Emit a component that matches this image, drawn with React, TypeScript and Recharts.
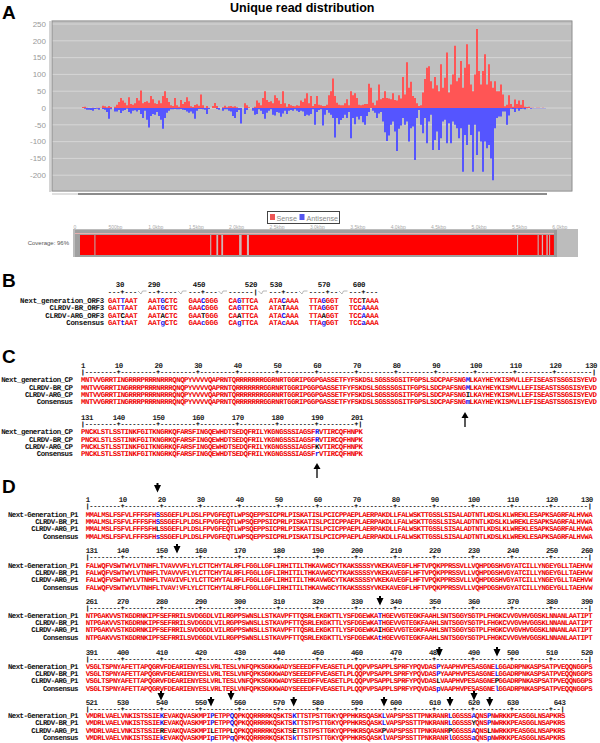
import { Bar, BarChart, CartesianGrid, XAxis, YAxis } from "recharts";

// Panel A: unique read counts, one value for every 2px column of the plot
const senseReads = [
  3, 4, 1, 0, 0, 1, 0, 1, 1, 1, 7, 5, 2, 6, 3, 0, 4, 10, 18, 30,
  22, 16, 8, 32, 12, 10, 14, 30, 22, 52, 14, 18, 20, 16, 36, 26, 14, 12, 22, 14,
  36, 50, 30, 18, 8, 6, 30, 8, 4, 24, 12, 18, 32, 20, 5, 3, 9, 11, 7, 40,
  8, 1, 6, 1, 0, 6, 15, 6, 0, 0, 2, 7, 2, 5, 6, 4, 5, 2, 0, 0,
  0, 14, 8, 2, 0, 1, 4, 22, 16, 8, 30, 50, 24, 18, 20, 14, 38, 30, 22, 12,
  50, 14, 4, 12, 8, 6, 5, 8, 7, 22, 18, 28, 44, 14, 36, 6, 12, 36, 10, 8,
  6, 6, 10, 38, 50, 88, 36, 16, 10, 8, 8, 14, 26, 8, 50, 38, 44, 30, 10, 8,
  10, 12, 12, 72, 60, 16, 8, 22, 70, 26, 30, 50, 30, 28, 26, 44, 24, 22, 38, 28,
  92, 40, 136, 60, 78, 36, 30, 14, 6, 8, 46, 86, 120, 124, 80, 58, 92, 68, 50, 130,
  60, 90, 165, 46, 70, 100, 185, 80, 90, 140, 60, 120, 190, 130, 70, 50, 100, 235, 110, 70,
  110, 160, 70, 130, 80, 60, 80, 50, 50, 70, 40, 5, 10, 38, 12, 4, 25, 12, 22, 10,
  24, 4, 3, 4, 1, 1, 0, 1, 1, 0, 1, 0,
];
const antisenseReads = [
  0, -2, -5, -5, -6, -8, -3, -2, -5, 0, -3, -5, -12, -32, -4, 0, -10, -10, -6, -15,
  -8, -6, -2, -12, -16, -8, -7, -10, -6, -18, -30, -8, -35, -58, -24, -18, -20, -12, -24, -35,
  -62, -30, -14, -8, -4, -4, -3, -4, -4, -3, -5, -6, -10, -14, -10, -16, -32, -8, -3, -3,
  -4, -5, -18, -3, 0, 0, 0, -3, -5, 0, -8, -4, -4, -8, -10, -24, -30, -12, -6, -46,
  0, -18, -6, 0, 0, -8, -20, -18, -4, -8, -18, -32, -14, -8, -4, -20, -22, -12, -14, -26,
  -16, -8, -18, -8, -6, -8, -4, -8, -12, -8, -10, -24, -20, -22, -18, -4, -50, -12, -6, -4,
  -52, -20, -6, -14, -20, -30, -88, -30, -48, -36, -30, -20, -30, -12, -90, -30, -48, -26, -34, -24,
  -42, -50, -24, -12, 0, -8, -14, -30, -16, -12, -40, -72, -98, -82, -50, -40, -70, -128, -62, -52,
  -30, -50, -40, -100, -60, -55, -155, -30, -6, -50, -75, -30, -105, -40, -20, -125, -95, -70, -125, -90,
  -40, -35, -105, -45, -105, -40, -50, -60, -90, -60, -190, -80, -110, -50, -80, -190, -50, -140, -70, -100,
  -190, -100, -120, -110, -150, -215, -60, -30, -25, -25, -10, -10, -50, -22, -2, -3, -12, -2, -8, -3,
  -2, -4, -1, 0, -2, -1, -1, -1, -1, -1, -1, -1,
];
const readTicks = [-200, -150, -100, -50, 0, 50, 100, 150, 200, 250];

// Coverage track: alternating lengths in bp, uncovered lead first
const coverageSegments = [
  62, 181, 10, 1422, 12, 65, 20, 41, 20, 200, 30, 65, 25, 3321, 10, 243, 12, 39, 15, 43, 15, 19, 10, 47,
];
const coverageTicks = [0, 500, 1000, 1500, 2000, 2500, 3000, 3500, 4000, 4500, 5000, 5500, 6000];

// Panel B
const orfNames = ["Next_generation_ORF3", "CLRDV-BR_ORF3", "CLRDV-ARG_ORF3", "Consensus"];
const orfLabels = ["30", "290", "450", "520", "530", "570", "600"];
const orfTop = ["GATTAAT", "AATGCTC", "GAACGGG", "CAGTTCA", "ATACAAA", "TTAGGGT", "TCCTAAA"];
const orfVariants = [
  { col: 3, chars: "TTCt" },
  { col: 3, chars: "GGAg" },
  { col: 3, chars: "CCTc" },
  { col: 2, chars: "GGAg" },
  { col: 3, chars: "CTCc" },
  { col: 3, chars: "GGAg" },
  { col: 3, chars: "TAAa" },
];

// Panel C
const cpNames = ["Next_generation_CP", "CLRDV-BR_CP", "CLRDV-ARG_CP", "Consensus"];
const cpLine1 =
  "MNTVVGRRTINGRRRPRRRNRRRQNQPYVVVVQAPRNTQRRRRRRRGGRNRTGGRIPGGPGASSETFYFSKDSLSGSSSGSITFGPSLSDCPAFSNGMLKAYHEYKISMVLLEFISEASTSSGSISYEVD";
const cpLine2 = "PNCKLSTLSSTINKFGITKNGRKQFARSFINGQEWHDTSEDQFRILYKGNGSSSIAGSFRVTIRCQFHNPK";
const cpVariants1 = [{ col: 97, chars: "MMIm" }];
const cpVariants2 = [{ col: 59, chars: "RRKr" }];

// Panel D
const p1Names = ["Next-Generation_P1", "CLRDV-BR_P1", "CLRDV-ARG_P1", "Consensus"];
const p1Line1 =
  "MMALMSLFSFVLFFFSFHSSSGEFLPLDSLFPVGFEQTLWPSQEPPSICPRLPISKATISLPCICPPAEPLAERPAKDLLFALWSKTTGSSLSISALADTNTLKDSLKLWREKLESAPKSAGRFALHVWA";
const p1Line2 =
  "FALWQFVSWTWYLVTNHFLTVAVVVFLYLCTTCHYTALRFLFGGLLGFLIRHITILTHKAVWGCYTKAKSSSSYVKEKAVEGFLHFTVPQKPPRSSVLLVQHPDGSHVGYATCILLYNGEYGLLTAEHVW";
const p1Line3 =
  "NTPGAKVVSTKGDRNKIPFSEFRRILSVDGGDLVILRGPPSWNSLLSTKAVPFTTQSRLEKGKTTLYSFDGEWKATHGEVVGTEGKFAAHLSNTSGGYSGTPLFHGKCVVGVHVGGSKLNNANLAATIPT";
const p1Line4 =
  "VSGLTSPNYAFETTAPQGRVFDEARIENYESLVRLTESLVNFQPKSGKKWADYSEEEDFFVEASETLPLQQPVPSAPPLSPRFYPQVDASPYAAPHVPESASGNELGGADRPNKASPSATPVEQQNGGPS";
const p1Line5 =
  "VMDRLVAELVNKISTSSIEKEVAKQVASKMPIPETPPQQPKQQRRRRKQSKTSKTTSTPSTTGKYQPPHKRSQASKLVAPSPSSTTPNKRANRLGGSSSAQNSPNWRKKPEASGGLNSAPKRS";
const p1Variants1 = [{ col: 18, chars: "SSLs" }];
const p1Variants2 = [{ col: 23, chars: "VVI!", plain: true }];
const p1Variants3 = [{ col: 75, chars: "TTIt" }];
const p1Variants4 = [
  { col: 90, chars: "PPLp" },
  { col: 91, chars: "YYVV", plain: true },
  { col: 105, chars: "LLPl" },
];
const p1Variants5 = [
  { col: 19, chars: "KKRk" },
  { col: 32, chars: "PPLp" },
  { col: 37, chars: "QQLq" },
  { col: 53, chars: "KKEk" },
  { col: 76, chars: "LLPl" },
  { col: 93, chars: "LLPl" },
  { col: 99, chars: "AYAa" },
  { col: 103, chars: "PPLp" },
];

const readData = senseReads.map((sense, i) => ({
  pos: i,
  sense,
  antisense: antisenseReads[i],
}));
const coverageRow = [
  Object.fromEntries(coverageSegments.map((len, i) => [`s${i}`, len])),
];

const RED = "#f00000";
const BLUE = "#1010f0";
const MONO = "'Liberation Mono', monospace";
const SANS = "'Liberation Sans', Arial, sans-serif";
const GLYPH_SIZE = 7.4;
const RULER_SIZE = 6.2;

interface Variant {
  col: number;
  chars: string;
  plain?: boolean;
}

function buildRows(top: string, variants: Variant[]) {
  return [0, 1, 2, 3].map((row) => {
    const letters = top.split("");
    const colors = letters.map(() => RED);
    variants.forEach((v) => {
      letters[v.col] = v.chars[row];
      if (v.plain) return;
      if (row === 3) {
        colors[v.col] = BLUE;
        return;
      }
      const same = v.chars.slice(0, 3).split("").filter((c) => c === v.chars[row]).length;
      colors[v.col] = same >= 2 ? BLUE : "#000";
    });
    return { letters, colors };
  });
}

// bitmap-looking text: glyphs a bit bigger than the cell, squeezed to the column pitch
function gridText(adv: number, size = GLYPH_SIZE) {
  return {
    fontFamily: MONO,
    fontWeight: "bold",
    fontSize: size,
    letterSpacing: adv - 0.6 * size,
    textRendering: "geometricPrecision" as const,
  };
}

function SeqRow({ letters, colors, x, y, adv }: { letters: string[]; colors: string[]; x: number; y: number; adv: number }) {
  const runs: { text: string; color: string }[] = [];
  letters.forEach((c, i) => {
    const last = runs[runs.length - 1];
    if (last && last.color === colors[i]) last.text += c;
    else runs.push({ text: c, color: colors[i] });
  });
  return (
    <text x={x} y={y} {...gridText(adv)}>
      {runs.map((r, i) => (
        <tspan key={i} fill={r.color}>
          {r.text}
        </tspan>
      ))}
    </text>
  );
}

interface SeqBlockProps {
  names: string[];
  top: string;
  variants: Variant[];
  start: number;
  x: number;
  adv: number;
  nameX: number;
  numY: number;
  rulerY: number;
  rowY: number;
}

function SeqBlock({ names, top, variants, start, x, adv, nameX, numY, rulerY, rowY }: SeqBlockProps) {
  const rows = buildRows(top, variants);
  const n = top.length;
  const end = start + n - 1;
  const ruler = top
    .split("")
    .map((_, i) => (i === 0 || i === n - 1 ? "|" : (start + i) % 10 === 0 ? "+" : "-"))
    .join("");
  const labels: { text: string; col: number; anchor: "start" | "middle" | "end" }[] = [
    { text: String(start), col: 0, anchor: "start" },
  ];
  for (let i = 1; i < n - 1; i++) {
    if ((start + i) % 10 === 0 && (end - (start + i) > 3 || end % 10 === 0)) {
      labels.push({ text: String(start + i), col: i + 0.5, anchor: "middle" });
    }
  }
  labels.push({ text: String(end), col: n, anchor: "end" });
  return (
    <g>
      {labels.map((l) => (
        <text key={l.text} x={x + l.col * adv} y={numY + 2.5} textAnchor={l.anchor} fill="#222" {...gridText(adv)}>
          {l.text}
        </text>
      ))}
      <text x={x} y={rulerY + 2} fill="#000" stroke="#000" strokeWidth={0.15} {...gridText(adv, RULER_SIZE)}>
        {ruler}
      </text>
      {rows.map((r, i) => (
        <g key={i}>
          <text x={nameX} y={rowY + i * 7.4 + 2.5} textAnchor="end" fill="#111" {...gridText(adv)}>
            {names[i]}
          </text>
          <SeqRow letters={r.letters} colors={r.colors} x={x} y={rowY + i * 7.4 + 2.5} adv={adv} />
        </g>
      ))}
    </g>
  );
}

function UpArrow({ x, top, bottom }: { x: number; top: number; bottom: number }) {
  return (
    <g>
      <line x1={x} x2={x} y1={top + 4} y2={bottom} stroke="#000" strokeWidth={1.3} />
      <path d={`M${x - 3.5},${top + 6} L${x},${top} L${x + 3.5},${top + 6} Z`} fill="#000" />
    </g>
  );
}

function DownArrow({ x, top }: { x: number; top: number }) {
  return <path d={`M${x - 1},${top} H${x + 1} V${top + 2} H${x + 3.5} L${x},${top + 9.5} L${x - 3.5},${top + 2} H${x - 1} Z`} fill="#000" />;
}

function PanelLetter({ text, x, y }: { text: string; x: number; y: number }) {
  return (
    <text x={x} y={y} fontFamily={SANS} fontWeight="bold" fontSize={19} fill="#000">
      {text}
    </text>
  );
}

export default function App() {
  const orfX = [108, 148, 188.5, 228.5, 269, 309, 349];
  const orfLabelX = [120, 154, 199, 251, 276, 324, 359];
  const orfTickCol = [3, 2, 3, 6, 3, 4, 3];
  return (
    <div style={{ position: "absolute", left: 0, top: 0, width: 600, height: 743, background: "#fff", overflow: "hidden" }}>
      <div style={{ position: "absolute", left: 0, top: 0 }}>
        <BarChart
          width={600}
          height={200}
          data={readData}
          stackOffset="sign"
          barCategoryGap={0}
          margin={{ top: 21, right: 28, bottom: 9, left: 0 }}
        >
          <CartesianGrid vertical={false} stroke="#d6d6d6" fill="#bfbfbf" />
          <XAxis dataKey="pos" hide padding={{ left: 30, right: 26 }} />
          <YAxis
            width={52}
            domain={[-247, 259]}
            ticks={readTicks}
            interval={0}
            axisLine={false}
            tickLine={false}
            tickMargin={0}
            tick={{ fontSize: 8, fontFamily: SANS, fill: "#999" }}
          />
          <Bar dataKey="sense" stackId="reads" fill="#ff5555" isAnimationActive={false} />
          <Bar dataKey="antisense" stackId="reads" fill="#5555ff" isAnimationActive={false} />
        </BarChart>
      </div>

      <svg width={600} height={743} style={{ position: "absolute", left: 0, top: 0 }}>
        {/* frame round the read plot */}
        <rect x={52} y={21} width={520} height={170} fill="none" stroke="#8c8c8c" />
        <line x1={50} x2={50} y1={21} y2={192} stroke="#a8a8a8" />
        <line x1={52} x2={78} y1={194} y2={194} stroke="#e0e0e0" strokeWidth={2} />
        <line x1={78} x2={547} y1={194} y2={194} stroke="#8c8c8c" strokeWidth={2} />

        <PanelLetter text="A" x={2} y={19} />
        <text x={230} y={12} fontFamily={SANS} fontWeight="bold" fontSize={12.5} fill="#000">
          Unique read distribution
        </text>

        {/* legend */}
        <rect x={267.5} y={211.5} width={72} height={12} fill="#fff" stroke="#444" />
        <rect x={270} y={214} width={5} height={6} fill="#ee5555" />
        <text x={276.5} y={220.5} fontFamily={SANS} fontSize={7.2} fill="#888">
          Sense
        </text>
        <rect x={299.5} y={214} width={5} height={6} fill="#5555ee" />
        <text x={306.5} y={220.5} fontFamily={SANS} fontSize={7.2} fill="#888">
          Antisense
        </text>

        {/* coverage track background */}
        <text x={69} y={245} textAnchor="end" fontFamily={SANS} fontSize={6} fill="#555">
          Coverage: 96%
        </text>
        <rect x={73} y={229} width={505} height={28} fill="#bcbcbc" />
        <rect x={75} y={230} width={479} height={27} fill="#a0a0a0" />
        <rect x={554} y={230} width={3} height={27} fill="#9a9a9a" />
        <line x1={75} x2={554} y1={233.5} y2={233.5} stroke="#e6b0b0" />

        <PanelLetter text="B" x={2} y={287} />
        {orfTop.map((top, b) => {
          const rows = buildRows(top, [orfVariants[b]]);
          const adv = 4.2;
          const x = orfX[b];
          const ruler = top
            .split("")
            .map((_, i) => (i === orfTickCol[b] ? (b === 3 ? "|" : "+") : "-"))
            .join("");
          return (
            <g key={top}>
              <text x={orfLabelX[b]} y={286.5} textAnchor="middle" fill="#111" {...gridText(adv)}>
                {orfLabels[b]}
              </text>
              <text x={x} y={294} fill="#000" stroke="#000" strokeWidth={0.15} {...gridText(adv, RULER_SIZE)}>
                {ruler}
              </text>
              {b < 6 && (
                <path d={`M${x + 30},291 l3,3 l1.5,-3 h4`} fill="none" stroke="#999" strokeWidth={0.7} />
              )}
              {rows.map((r, i) => (
                <SeqRow key={i} letters={r.letters} colors={r.colors} x={x} y={302.5 + i * 7.6} adv={adv} />
              ))}
            </g>
          );
        })}
        {orfNames.map((name, i) => (
          <text key={name} x={104} y={302.5 + i * 7.6} textAnchor="end" fill="#111" {...gridText(4.2)}>
            {name}
          </text>
        ))}

        <PanelLetter text="C" x={2} y={363} />
        <SeqBlock names={cpNames} top={cpLine1} variants={cpVariants1} start={1} x={81} adv={3.97} nameX={72.5} numY={365} rulerY={372} rowY={379.7} />
        <SeqBlock names={cpNames} top={cpLine2} variants={cpVariants2} start={131} x={81} adv={3.97} nameX={72.5} numY={417} rulerY={424} rowY={431.7} />
        <UpArrow x={465} top={412} bottom={427} />
        <UpArrow x={317} top={463} bottom={478} />

        <PanelLetter text="D" x={2} y={493} />
        <SeqBlock names={p1Names} top={p1Line1} variants={p1Variants1} start={1} x={85.7} adv={3.9} nameX={78} numY={499} rulerY={506} rowY={514} />
        <SeqBlock names={p1Names} top={p1Line2} variants={p1Variants2} start={131} x={85.7} adv={3.9} nameX={78} numY={550} rulerY={557} rowY={565} />
        <SeqBlock names={p1Names} top={p1Line3} variants={p1Variants3} start={261} x={85.7} adv={3.9} nameX={78} numY={601} rulerY={608} rowY={615} />
        <SeqBlock names={p1Names} top={p1Line4} variants={p1Variants4} start={391} x={85.7} adv={3.9} nameX={78} numY={652} rulerY={659} rowY={666} />
        <SeqBlock names={p1Names} top={p1Line5} variants={p1Variants5} start={521} x={85.7} adv={3.9} nameX={78} numY={702} rulerY={709} rowY={715.5} />

        <DownArrow x={157.5} top={483} />
        <DownArrow x={177} top={544} />
        <DownArrow x={380} top={596} />
        <DownArrow x={439.3} top={647} />
        <DownArrow x={497} top={647} />
        <DownArrow x={161} top={691} />
        <DownArrow x={211} top={697} />
        <DownArrow x={231} top={691} />
        <DownArrow x={293.7} top={697} />
        <DownArrow x={384} top={697} />
        <DownArrow x={450} top={697} />
        <DownArrow x={474} top={691} />
        <DownArrow x={489.7} top={697} />
      </svg>

      <div style={{ position: "absolute", left: 0, top: 224 }}>
        <BarChart
          layout="vertical"
          width={600}
          height={31}
          data={coverageRow}
          barCategoryGap={0}
          margin={{ top: 0, right: 22, bottom: 0, left: 75 }}
        >
          <XAxis
            type="number"
            orientation="top"
            domain={[0, 6225]}
            ticks={coverageTicks}
            interval={0}
            height={11}
            axisLine={false}
            tickLine={false}
            tickSize={4}
            tickMargin={2}
            tickFormatter={(v: number) => (v === 0 ? "0" : v === 500 ? "500bp" : `${(v / 1000).toFixed(1)}kbp`)}
            tick={{ fontSize: 5, fontFamily: SANS, fill: "#aaa" }}
          />
          <YAxis type="category" hide />
          {coverageSegments.map((_, i) => (
            <Bar
              key={i}
              dataKey={`s${i}`}
              stackId="cov"
              fill={i === 0 ? "#a0a0a0" : i % 2 === 1 ? "#ff0000" : "#d4b4b4"}
              isAnimationActive={false}
            />
          ))}
        </BarChart>
      </div>
    </div>
  );
}
